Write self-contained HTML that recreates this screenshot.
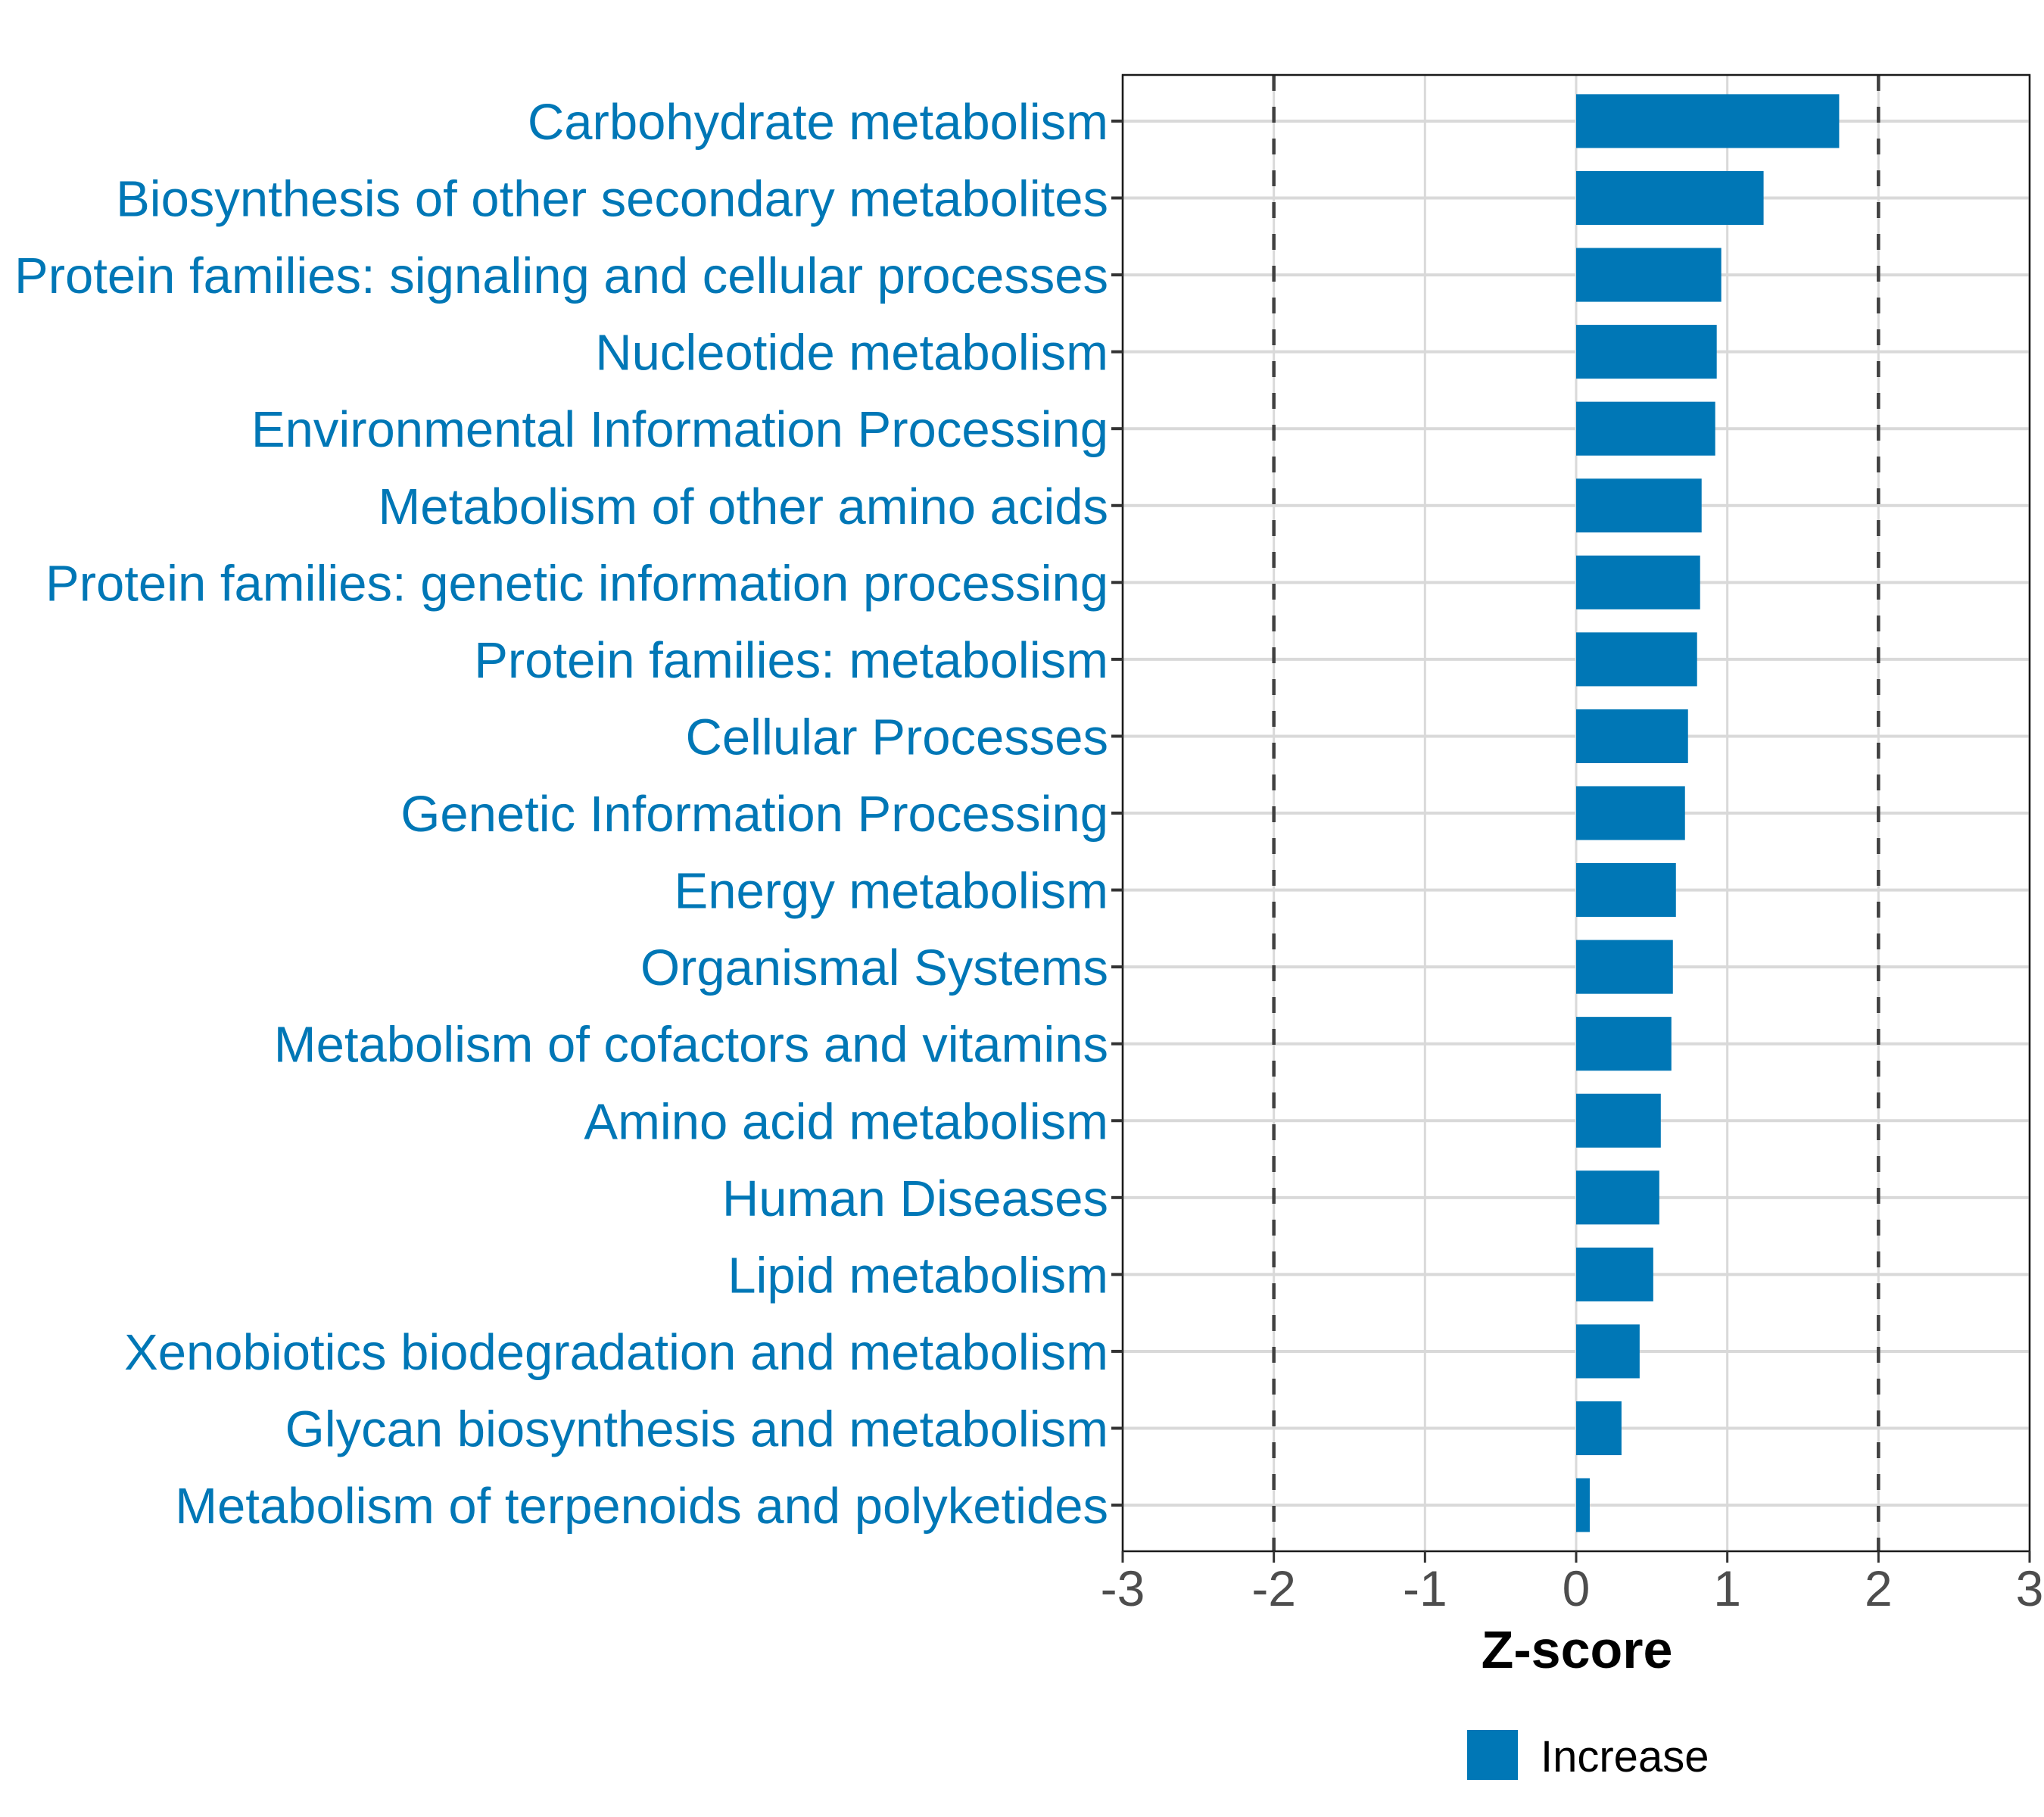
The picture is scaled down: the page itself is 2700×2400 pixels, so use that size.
<!DOCTYPE html>
<html><head><meta charset="utf-8"><style>
html,body{margin:0;padding:0;background:#fff;}
svg{display:block;font-family:"Liberation Sans",Arial,sans-serif;}
</style></head><body>
<svg id="chart" width="2700" height="2400" viewBox="0 0 2700 2400" xmlns="http://www.w3.org/2000/svg">
<rect width="2700" height="2400" fill="#fff"/>
<g id="grid"></g>
<g id="bars"></g>
<g id="axes"></g>
<text x="2083" y="2203" text-anchor="middle" font-size="70" font-weight="bold" fill="#000">Z-score</text>
<g>
<rect x="1938" y="2285" width="67" height="66" fill="#0077b6"/>
<text x="2035" y="2340" font-size="58" fill="#000">Increase</text>
</g>
</svg>
<script>
const categories = ["Carbohydrate metabolism","Biosynthesis of other secondary metabolites","Protein families: signaling and cellular processes","Nucleotide metabolism","Environmental Information Processing","Metabolism of other amino acids","Protein families: genetic information processing","Protein families: metabolism","Cellular Processes","Genetic Information Processing","Energy metabolism","Organismal Systems","Metabolism of cofactors and vitamins","Amino acid metabolism","Human Diseases","Lipid metabolism","Xenobiotics biodegradation and metabolism","Glycan biosynthesis and metabolism","Metabolism of terpenoids and polyketides"];
const zscores = [1.74,1.24,0.96,0.93,0.92,0.83,0.82,0.80,0.74,0.72,0.66,0.64,0.63,0.56,0.55,0.51,0.42,0.30,0.09];
const xTicks = [-3,-2,-1,0,1,2,3];
const xTickLabels = ["-3","-2","-1","0","1","2","3"];
const refLines = [-2,2];

const NS="http://www.w3.org/2000/svg";
const L=1483,R=2681,T=99,B=2049;
const xMin=-3,xMax=3;
function xs(v){return L+(v-xMin)/(xMax-xMin)*(R-L);}
const n=categories.length;
const step=(B-T)/(n-1+1.2);
function ys(i){return T+step*0.6+i*step;}
function mk(tag,attrs,parent){const e=document.createElementNS(NS,tag);for(const k in attrs)e.setAttribute(k,attrs[k]);parent.appendChild(e);return e;}
const grid=document.getElementById('grid'),bars=document.getElementById('bars'),axes=document.getElementById('axes');
xTicks.forEach((t,i)=>{
  const g=mk('line',{x1:xs(t),x2:xs(t),y1:T,y2:B,stroke:'#d9d9d9','stroke-width':3},grid);
  
  
});
categories.forEach((c,i)=>{
  const g=mk('line',{x1:L,x2:R,y1:ys(i),y2:ys(i),stroke:'#d9d9d9','stroke-width':4},grid);
  
  
});
refLines.forEach(v=>{
  const d=mk('line',{x1:xs(v),x2:xs(v),y1:T,y2:B,stroke:'#404040','stroke-width':4.5,'stroke-dasharray':'21 21'},grid);
  
  
});
const bh=step*0.7;
zscores.forEach((v,i)=>{
  const x0=xs(Math.min(0,v)),x1=xs(Math.max(0,v));
  const b=mk('rect',{x:x0,y:ys(i)-bh/2,width:x1-x0,height:bh,fill:'#0077b6'},bars);
  
  
});
const frame=mk('rect',{x:L,y:T,width:R-L,height:B-T,fill:'none',stroke:'#1a1a1a','stroke-width':2.5},axes);


categories.forEach((c,i)=>{
  const tk=mk('line',{x1:L-15,x2:L,y1:ys(i),y2:ys(i),stroke:'#333','stroke-width':4},axes);
  
  
  const t=mk('text',{x:L-19,y:ys(i)+24,'text-anchor':'end','font-size':67,fill:'#0077b6'},axes);
  t.textContent=c;
  
  
});
xTicks.forEach((v,i)=>{
  const tk=mk('line',{x1:xs(v),x2:xs(v),y1:B,y2:B+15,stroke:'#333','stroke-width':3},axes);
  
  
  const t=mk('text',{x:xs(v),y:B+72,'text-anchor':'middle','font-size':66,fill:'#4d4d4d'},axes);
  t.textContent=xTickLabels[i];
  
  
});
</script>
</body></html>
